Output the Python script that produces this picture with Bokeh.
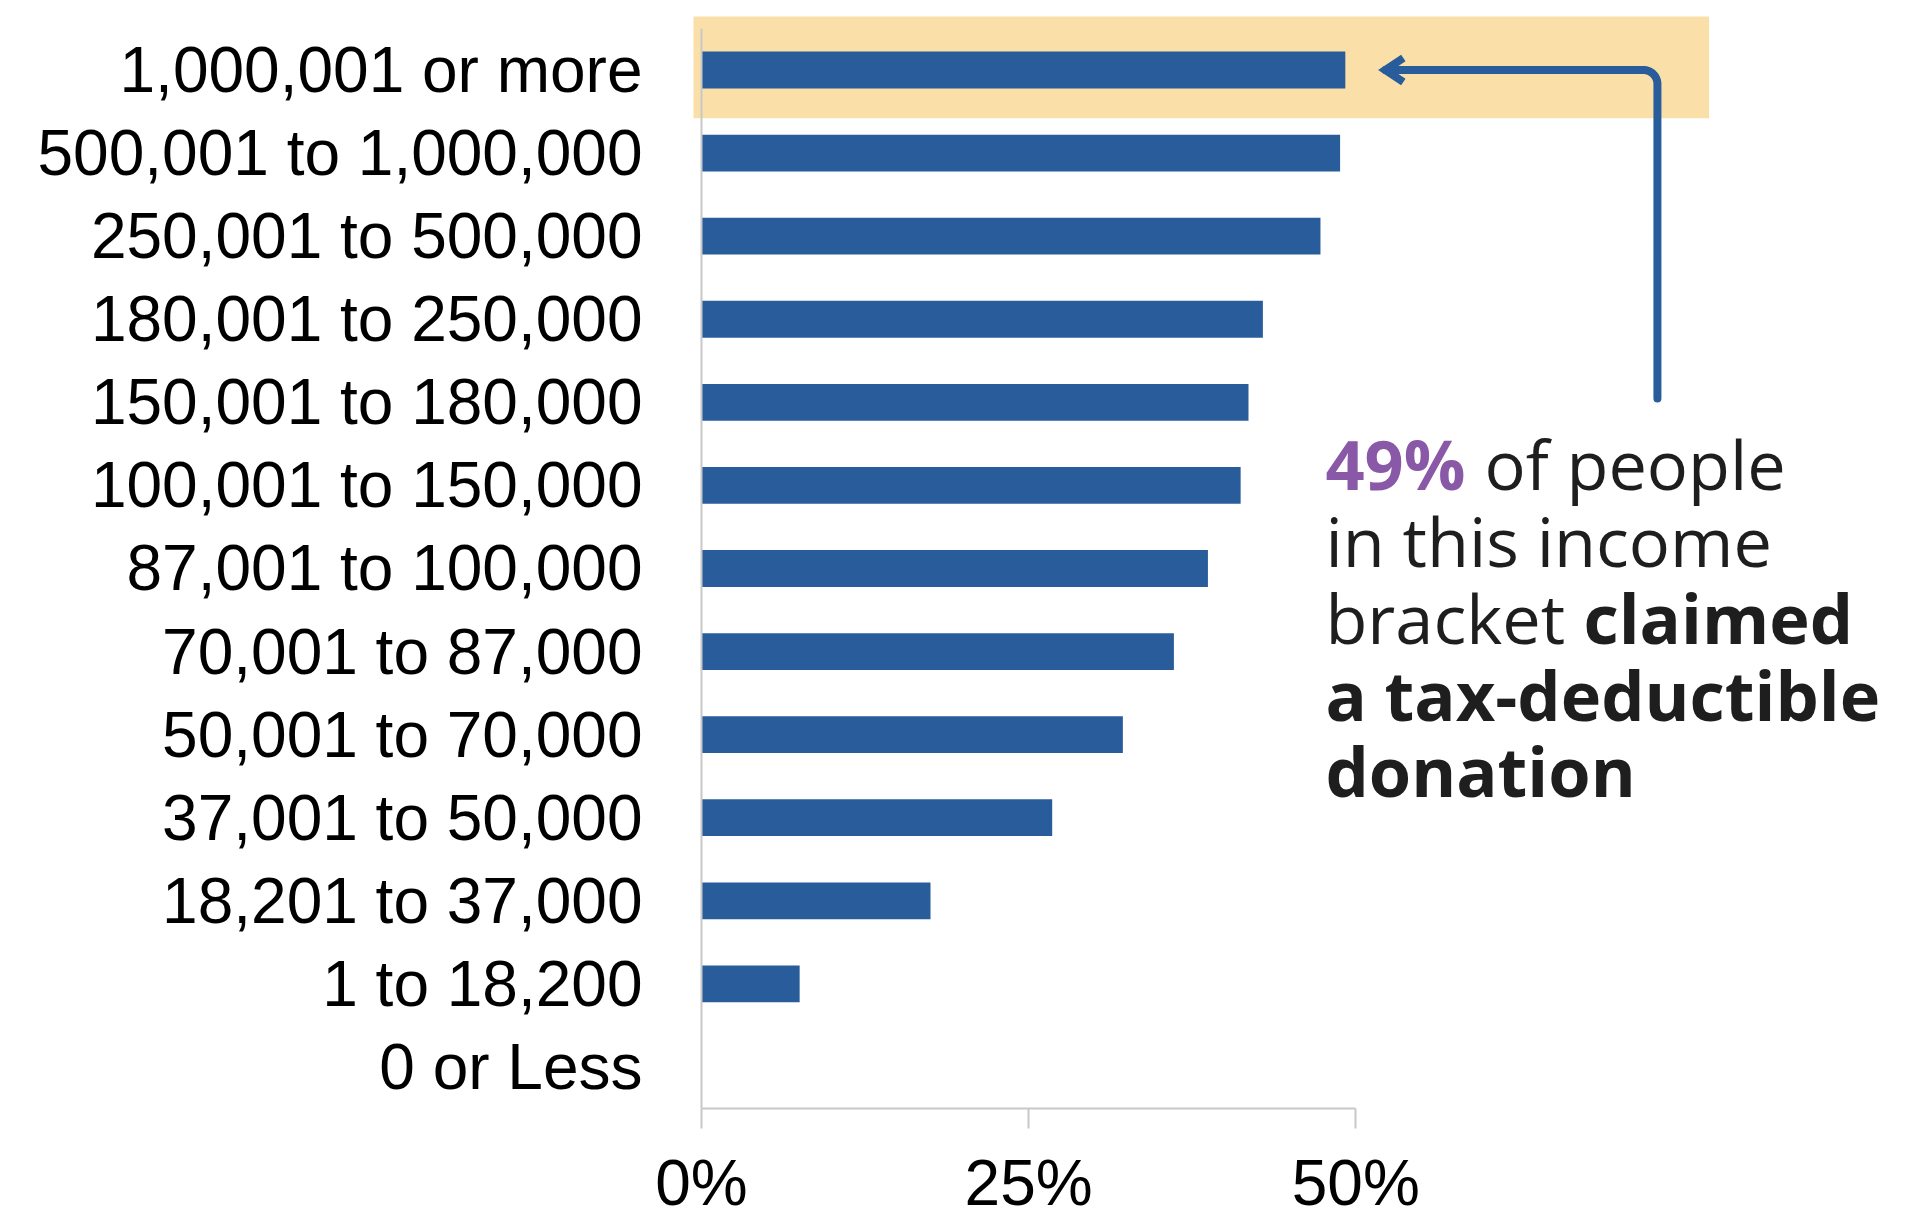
import math
from bokeh.plotting import figure
from bokeh.models import Range1d, FixedTicker
from bokeh.core.properties import value
from bokeh.embed import file_html
from bokeh.resources import INLINE

# ---------------- data ----------------
categories = [
    "1,000,001 or more", "500,001 to 1,000,000", "250,001 to 500,000",
    "180,001 to 250,000", "150,001 to 180,000", "100,001 to 150,000",
    "87,001 to 100,000", "70,001 to 87,000", "50,001 to 70,000",
    "37,001 to 50,000", "18,201 to 37,000", "1 to 18,200", "0 or Less",
]
share_claimed = [49.2, 48.8, 47.3, 42.9, 41.8, 41.2, 38.7, 36.1, 32.2, 26.8, 17.5, 7.5, 0.0]
x_ticks = [0, 25, 50]
x_tick_labels = ["0%", "25%", "50%"]
highlight_index = 0

# ---------------- style ----------------
BAR = "#295C9A"
HIGHLIGHT = "#FAE0A8"
AXIS = "#C8C8C8"
PURPLE = "#8958A6"
DARK = "#1E1E1E"
NOTE_FONT = value("Open Sans")

W, H = 1916, 1221
MB_L, MB_R, MB_T, MB_B = 693, 0, 16, 110
FRAME_W = W - MB_L - MB_R
FRAME_H = H - MB_T - MB_B

n = len(categories)
ypos = [n - 1 - i for i in range(n)]

x_start, x_end = -0.6113, 92.848
y_start, y_end = -0.5, n - 0.5 + 0.144
PX_X = FRAME_W / (x_end - x_start)
PX_Y = FRAME_H / (y_end - y_start)

p = figure(width=W, height=H, output_backend="svg", toolbar_location=None,
           x_range=Range1d(x_start, x_end), y_range=Range1d(y_start, y_end),
           min_border_left=MB_L, min_border_right=MB_R,
           min_border_top=MB_T, min_border_bottom=MB_B)
p.outline_line_color = None
p.background_fill_color = "white"
p.border_fill_color = "white"
p.xgrid.visible = False
p.ygrid.visible = False

# highlight band behind the top bracket
yh = ypos[highlight_index]
p.quad(left=x_start - 1, right=77.0, bottom=yh - 0.58, top=yh + 0.7,
       fill_color=HIGHLIGHT, line_color=None)

# bars
p.hbar(y=ypos, left=0, right=share_claimed, height=0.443,
       fill_color=BAR, line_color=None)

# vertical axis line at 0%
p.segment(x0=[0], y0=[-0.5], x1=[0], y1=[n - 0.5], line_color=AXIS, line_width=2)

# x axis
xa = p.xaxis[0]
xa.ticker = FixedTicker(ticks=x_ticks)
xa.major_label_overrides = {t: lab for t, lab in zip(x_ticks, x_tick_labels)}
xa.bounds = (0, 50)
xa.axis_line_color = AXIS
xa.axis_line_width = 2
xa.major_tick_line_color = AXIS
xa.major_tick_line_width = 2
xa.major_tick_out = 20
xa.major_tick_in = 0
xa.minor_tick_out = 0
xa.minor_tick_in = 0
xa.major_label_standoff = 18
xa.major_label_text_font = "Liberation Sans"
xa.major_label_text_font_size = "64px"
xa.major_label_text_color = "black"

# y axis
ya = p.yaxis[0]
ya.ticker = FixedTicker(ticks=ypos)
ya.major_label_overrides = {ypos[i]: categories[i] for i in range(n)}
ya.axis_line_color = None
ya.major_tick_line_color = None
ya.major_tick_out = 0
ya.major_tick_in = 0
ya.minor_tick_line_color = None
ya.major_label_standoff = 51
ya.major_label_text_font = "Liberation Sans"
ya.major_label_text_font_size = "64px"
ya.major_label_text_color = "black"

# arrow connector
tip_x = share_claimed[highlight_index] + 40 / PX_X
corner_x = 73.05
bottom_y = 8.046
r = 14
rx, ry = r / PX_X, r / PX_Y
xs = [tip_x]
ys = [yh]
cx = corner_x - rx
for k in range(0, 19):
    phi = math.radians(k * 5)
    xs.append(cx + rx * math.sin(phi))
    ys.append(yh - ry * (1 - math.cos(phi)))
xs.append(corner_x)
ys.append(bottom_y)
p.line(xs, ys, line_color=BAR, line_width=8, line_cap="round", line_join="round")

# arrow head (open chevron)
p.line([tip_x + 18 / PX_X, tip_x, tip_x + 18 / PX_X],
       [yh + 12 / PX_Y, yh, yh - 12 / PX_Y],
       line_color=BAR, line_width=8, line_join="miter", line_cap="butt")

# annotation text
tx = 47.68
step = 77 / PX_Y
b0 = 6.954 + 25.6 / PX_Y
fs = "68.5px"
p.text(x=[tx], y=[b0], text=["49%"], text_font=NOTE_FONT, text_font_style="bold",
       text_font_size=fs, text_color=PURPLE, text_baseline="alphabetic")
p.text(x=[59.83], y=[b0], text=["of people"], text_font=NOTE_FONT,
       text_font_size=fs, text_color=DARK, text_baseline="alphabetic")
p.text(x=[tx], y=[b0 - step], text=["in this income"], text_font=NOTE_FONT,
       text_font_size=fs, text_color=DARK, text_baseline="alphabetic")
p.text(x=[tx], y=[b0 - 2 * step], text=["bracket"], text_font=NOTE_FONT,
       text_font_size=fs, text_color=DARK, text_baseline="alphabetic")
p.text(x=[67.40], y=[b0 - 2 * step], text=["claimed"], text_font=NOTE_FONT,
       text_font_style="bold", text_font_size=fs, text_color=DARK,
       text_baseline="alphabetic")
p.text(x=[tx], y=[b0 - 3 * step], text=["a tax-deductible"], text_font=NOTE_FONT,
       text_font_style="bold", text_font_size=fs, text_color=DARK,
       text_baseline="alphabetic")
p.text(x=[tx], y=[b0 - 4 * step], text=["donation"], text_font=NOTE_FONT,
       text_font_style="bold", text_font_size=fs, text_color=DARK,
       text_baseline="alphabetic")

open("out.html", "w").write(file_html(p, INLINE))
